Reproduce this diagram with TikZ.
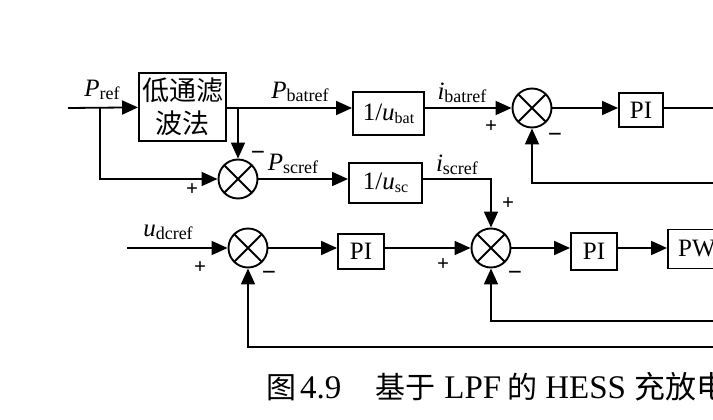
\documentclass[tikz,border=0pt]{standalone}
\usepackage{fontspec}
\setmainfont{Liberation Serif}
\newfontfamily\cjk{Noto Sans CJK SC}
\usetikzlibrary{arrows.meta, positioning}
\newcommand{\sgl}[3][16]{\textit{#2}\raisebox{-0.12em}{\fontsize{#1}{#1}\selectfont #3}}
\tikzset{
    block style/.style={draw, rectangle, line width=1.9pt, inner sep=0pt, font=\fontsize{25}{25}\selectfont},
    sum style/.style={draw, circle, line width=1.9pt, minimum size=39pt, inner sep=0pt,
        path picture={\draw[line width=1.9pt] (path picture bounding box.north west) -- (path picture bounding box.south east)
            (path picture bounding box.north east) -- (path picture bounding box.south west);}},
    arrow style/.style={-{Triangle[length=16pt, width=14pt]}, line width=1.8pt},
    line style/.style={line width=1.8pt},
    sign style/.style={font=\fontsize{21}{21}\selectfont\bfseries, inner sep=0pt},
    minus style/.style={font=\fontsize{25}{25}\selectfont\bfseries, inner sep=0pt},
    label style/.style={font=\fontsize{25}{25}\selectfont, inner sep=0pt},
}

\begin{document}
\begin{tikzpicture}[x=1pt, y=-1pt]
    \useasboundingbox (0,0) rectangle (713,420);
    \clip (0,0) rectangle (713,420);

    % battery branch
    \coordinate (in1) at (68,108);
    \coordinate (split1) at (100,108);
    \node (lpf) [block style, minimum width=87pt, minimum height=68pt, align=center, font=\cjk\fontsize{27}{33}\selectfont] at (182.5,107) {低通滤\\波法};
    \coordinate (split2) at (238,108);
    \node (bat) [block style, minimum width=71pt, minimum height=43pt] at (388.5,113.5) {1/\sgl{u}{bat}};
    \node (sumbat) [sum style] at (532,108) {};
    \node (pibat) [block style, minimum width=44pt, minimum height=34pt] at (641,110) {PI};
    \coordinate (out1) at (713,108);
    \coordinate (fb1) at (713,183);

    % supercapacitor branch
    \node (sumsc) [sum style] at (238,179) {};
    \node (sc) [block style, minimum width=73pt, minimum height=40pt] at (385.5,183) {1/\sgl{u}{sc}};

    % voltage and current loops
    \coordinate (in3) at (127,248);
    \node (sumdc) [sum style] at (248,248) {};
    \node (pidc) [block style, minimum width=46pt, minimum height=35pt] at (361,251.5) {PI};
    \node (sumcur) [sum style] at (491,248) {};
    \node (picur) [block style, minimum width=46pt, minimum height=37pt] at (594,251.5) {PI};
    \node (pwm) [block style, minimum width=80pt, minimum height=39pt] at (708,249) {PWM};
    \coordinate (fb2) at (713,321);
    \coordinate (fb3) at (713,347);

    \draw [arrow style] (in1) -- (lpf);
    \draw [line style] (lpf.east |- split2) -- (split2);
    \draw [arrow style] (split2) -- (bat.west |- split2);
    \draw [arrow style] (split2) -- (sumsc);
    \draw [arrow style] (bat.east |- split2) -- (sumbat);
    \draw [arrow style] (sumbat) -- (pibat.west |- sumbat);
    \draw [line style] (pibat.east |- sumbat) -- (out1);
    \draw [arrow style] (fb1) -| (sumbat);

    \draw [arrow style] (split1) |- (sumsc);
    \draw [arrow style] (sumsc) -- (sc.west |- sumsc);
    \draw [arrow style] (sc.east |- sumsc) -| (sumcur);

    \draw [arrow style] (in3) -- (sumdc);
    \draw [arrow style] (sumdc) -- (pidc.west |- sumdc);
    \draw [arrow style] (pidc.east |- sumdc) -- (sumcur);
    \draw [arrow style] (sumcur) -- (picur.west |- sumcur);
    \draw [arrow style] (picur.east |- sumcur) -- (pwm.west |- sumcur);
    \draw [arrow style] (fb2) -| (sumcur);
    \draw [arrow style] (fb3) -| (sumdc);

    % signal labels
    \node (lpref) [label style] at (102,90) {\sgl[18]{P}{ref}};
    \node (lpbat) [label style] at (300,92) {\sgl[18]{P}{batref}};
    \node (libat) [label style] at (462,93) {\sgl[18]{i}{batref}};
    \node (lpsc) [label style] at (293,164) {\sgl[18]{P}{scref}};
    \node (lisc) [label style] at (457,165) {\sgl[18]{i}{scref}};
    \node (ludc) [label style] at (168,232) {\sgl[18]{u}{dcref}};

    % signs
    \node (s1) [sign style] at (192,190) {+};
    \node (s2) [minus style] at (258,156) {−};
    \node (s3) [sign style] at (491,127) {+};
    \node (s4) [minus style] at (555,138) {−};
    \node (s5) [sign style] at (508,204) {+};
    \node (s6) [sign style] at (443,265) {+};
    \node (s7) [minus style] at (515,276) {−};
    \node (s8) [sign style] at (200,268) {+};
    \node (s9) [minus style] at (269,276) {−};

    \node (caption) [anchor=base west, inner sep=0pt, font=\fontsize{33}{33}\selectfont] at (266,398)
        {{\cjk\fontsize{30}{30}\selectfont 图}\hspace{4pt}4.9\hspace{34pt}{\cjk\fontsize{30}{30}\selectfont 基于}\hspace{9pt}LPF\hspace{6pt}{\cjk\fontsize{30}{30}\selectfont 的}\hspace{8pt}HESS\hspace{8pt}{\cjk\fontsize{31}{31}\selectfont 充放电}};
\end{tikzpicture}
\end{document}
